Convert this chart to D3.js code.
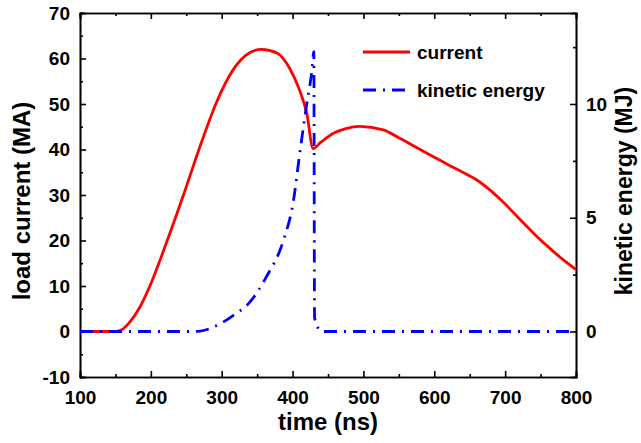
<!DOCTYPE html>
<html>
<head>
<meta charset="utf-8">
<script src="https://cdn.jsdelivr.net/npm/d3@7"></script>
<style>
  body { margin: 0; background: #fff; }
  text { font-family: Arial, "Liberation Sans", sans-serif; font-weight: bold; fill: #000; }
  .axis path, .axis line { stroke: #000; stroke-width: 1.6; }
</style>
</head>
<body>
<svg width="641" height="443"></svg>
<script>
/** Data **/

// load current (MA) against time (ns)
var current_time = [100, 150, 158, 170, 185, 200, 222, 246, 269, 293, 316, 340, 356, 378, 396, 410, 420, 429,
                    440, 457, 475, 495, 528, 552, 580, 600, 620, 640, 660, 680, 700, 720, 740, 760, 780, 800];
var current_val  = [0, 0, 0.3, 2, 5.5, 10.5, 19.5, 30, 40.5, 50.5, 57.5, 61.3, 62, 61.2, 57.8, 53, 48, 40.2,
                    41.6, 43.5, 44.6, 45.1, 44.3, 42.4, 40, 38.3, 36.6, 35, 33.3, 30.9, 28, 24.8, 21.6, 18.7, 16, 13.6];

// kinetic energy (MJ) against time (ns)
var energy_time = [100, 260, 270, 293, 316, 340, 363, 387, 401, 410, 420, 427, 430, 431, 441, 800];
var energy_val  = [0, 0, 0.02, 0.26, 0.7, 1.3, 2.4, 4.0, 5.7, 7.8, 10, 11.4, 12.3, 0.6, 0, 0];

var x_ticks = [100, 200, 300, 400, 500, 600, 700, 800];
var y_ticks = [-10, 0, 10, 20, 30, 40, 50, 60, 70];
var y2_ticks = [0, 5, 10];

var legend_labels = ["current", "kinetic energy"];

/** Set up the svg and the plot box **/
function setup_svg(){
	svg = d3.select("svg");
	border = {top: 13, bottom: 66, left: 80, right: 65};
	width = +svg.attr("width") - border.left - border.right;
	height = +svg.attr("height") - border.top - border.bottom;
	svg = svg.append("g")
		.attr("transform", "translate(" + border.left + "," + border.top + ")");
}

function setup_scales(){
	xScale = d3.scaleLinear().domain([100, 800]).range([0, width]);
	yScale = d3.scaleLinear().domain([-10, 70]).range([height, 0]);
	// 10 MJ sits level with 50 MA
	y2Scale = d3.scaleLinear().domain([-2, 14]).range([height, 0]);
}

// inward ticks: major ones labelled, minor ones short and blank
function tick_axis(axisFn, scale, majors, minors, cls, transform, label){
	var g = svg.append("g").attr("class", "axis " + cls).attr("transform", transform);
	g.call(axisFn(scale).tickValues(minors).tickSize(-3).tickFormat(""));
	var m = svg.append("g").attr("class", "axis " + cls).attr("transform", transform)
		.call(axisFn(scale).tickValues(majors).tickSize(-6).tickPadding(label ? 10 : 0)
			.tickFormat(label ? (d) => String(d) : ""));   // plain hyphen for -10
	m.selectAll("text").style("font-size", "19px");
	return m;
}

function setup_axes(){
	var xMinor = d3.range(150, 800, 100);
	var yMinor = d3.range(-5, 70, 10);
	var y2Minor = [2.5, 7.5, 12.5];

	tick_axis(d3.axisBottom, xScale, x_ticks, xMinor, "x", "translate(0," + height + ")", true)
		.selectAll("text").attr("dy", "0.9em");
	tick_axis(d3.axisTop, xScale, x_ticks, xMinor, "xtop", "translate(0,0)", false);
	tick_axis(d3.axisLeft, yScale, y_ticks, yMinor, "y", "translate(0,0)", true);
	tick_axis(d3.axisRight, y2Scale, y2_ticks, y2Minor, "y2", "translate(" + width + ",0)", true);

	svg.selectAll(".axis .domain").attr("stroke-width", 1.8);

	// axis titles
	svg.append("text")
		.attr("x", width / 2)
		.attr("y", height + 53)
		.style("text-anchor", "middle")
		.style("font-size", "24px")
		.text("time (ns)");

	svg.append("text")
		.attr("transform", "rotate(-90)")
		.attr("x", -height / 2 - 6)
		.attr("y", -50)
		.style("text-anchor", "middle")
		.style("font-size", "24px")
		.text("load current (MA)");

	// right title reads bottom to top too, baseline near the page edge
	svg.append("text")
		.attr("transform", "rotate(-90)")
		.attr("x", -height / 2 + 4)
		.attr("y", width + 56)
		.style("text-anchor", "middle")
		.style("font-size", "23px")
		.text("kinetic energy (MJ)");
}

function draw_lines(){
	var currentLine = d3.line()
		.x((d, i) => xScale(current_time[i]))
		.y((d) => yScale(d))
		.curve(d3.curveMonotoneX);

	var energyLine = d3.line()
		.x((d, i) => xScale(energy_time[i]))
		.y((d) => y2Scale(d))
		.curve(d3.curveMonotoneX);

	svg.append("path")
		.attr("d", currentLine(current_val))
		.attr("fill", "none")
		.attr("stroke", "#ff0000")
		.attr("stroke-width", 2.8);

	svg.append("path")
		.attr("d", energyLine(energy_val))
		.attr("fill", "none")
		.attr("stroke", "#0000ff")
		.attr("stroke-width", 2.8)
		.attr("stroke-dasharray", "13,7,2,7");
}

function draw_legend(){
	var leg = svg.append("g").attr("transform", "translate(283,39)");
	var styles = [{c: "#ff0000", dash: null}, {c: "#0000ff", dash: "13,7,2,7"}];

	legend_labels.forEach(function(lbl, i){
		leg.append("line")
			.attr("x1", 0).attr("x2", 47)
			.attr("y1", i * 38).attr("y2", i * 38)
			.attr("stroke", styles[i].c)
			.attr("stroke-width", 2.8)
			.attr("stroke-dasharray", styles[i].dash);
		leg.append("text")
			.attr("x", 54)
			.attr("y", i * 38 + 7)
			.style("font-size", "19px")
			.text(lbl);
	});
}

setup_svg();
setup_scales();
setup_axes();
draw_lines();
draw_legend();
</script>
</body>
</html>
